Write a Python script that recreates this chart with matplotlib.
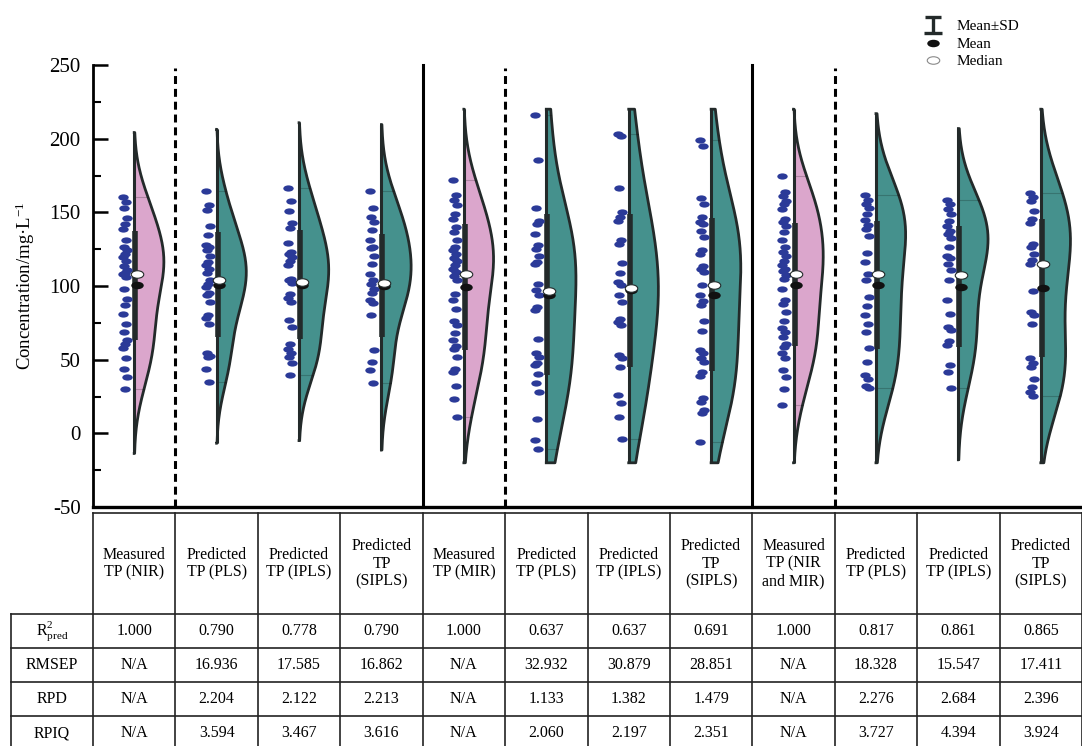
import matplotlib
matplotlib.use("Agg")
import matplotlib.pyplot as plt
import numpy as np
from matplotlib.lines import Line2D
from matplotlib.markers import MarkerStyle
from matplotlib.path import Path
from matplotlib.transforms import Affine2D

plt.rcParams["font.family"] = ["Liberation Serif", "DejaVu Serif"]
plt.rcParams["mathtext.fontset"] = "custom"
plt.rcParams["mathtext.rm"] = "Liberation Serif"
plt.rcParams["mathtext.it"] = "Liberation Serif:italic"
plt.rcParams["axes.unicode_minus"] = False

# TP concentration (mg/L) per column: measured set, then PLS / iPLS / siPLS predictions
measured_nir = [160.7, 156.8, 152.7, 146.0, 142.2, 138.5, 131.3, 126.8, 124.1, 121.9,
                119.6, 116.9, 113.3, 111.0, 108.7, 107.9, 106.0, 98.2, 90.9, 86.9,
                80.8, 74.5, 68.8, 63.6, 60.9, 58.2, 51.2, 44.0, 38.3, 29.8]
pls_nir = [164.7, 155.3, 151.7, 141.0, 134.3, 128.0, 126.4, 124.1, 120.3, 116.2,
           114.0, 111.7, 108.7, 103.8, 101.5, 99.3, 95.2, 93.6, 89.1, 80.1,
           78.5, 74.5, 54.8, 52.5, 51.5, 44.0, 34.9]
ipls_nir = [166.4, 157.5, 150.7, 142.6, 139.5, 129.3, 123.0, 121.4, 119.6, 117.3,
            114.0, 104.5, 103.8, 102.0, 94.8, 92.0, 88.9, 77.2, 72.2, 60.3,
            57.0, 54.2, 52.0, 47.4, 39.5]
sipls_nir = [164.3, 152.8, 147.1, 143.3, 138.1, 130.9, 126.8, 125.7, 120.3, 114.6,
             108.3, 103.8, 101.5, 98.2, 95.2, 90.3, 88.4, 80.1, 56.4, 48.5,
             42.9, 33.9]
measured_mir = [172.2, 162.0, 158.4, 155.0, 148.9, 145.6, 139.9, 136.5, 130.9, 126.8,
                124.1, 121.4, 118.9, 116.7, 114.0, 111.7, 109.4, 106.7, 103.8, 94.8,
                90.3, 84.6, 76.2, 73.3, 68.4, 63.6, 59.1, 57.5, 51.5, 44.0,
                41.7, 32.2, 23.2, 10.8]
pls_mir = [216.2, 185.7, 153.0, 144.4, 142.2, 135.4, 127.5, 125.3, 120.7, 116.2,
           115.1, 101.1, 97.0, 93.6, 85.7, 84.0, 64.3, 54.2, 51.9, 47.4,
           46.2, 40.1, 34.3, 28.2, 9.5, -4.5, -10.8]
ipls_mir = [203.1, 202.0, 166.6, 150.0, 147.1, 143.9, 130.9, 128.6, 115.5, 108.7,
            102.6, 100.4, 93.6, 89.1, 77.9, 75.6, 73.3, 53.0, 50.8, 45.1,
            25.9, 20.3, 10.8, -4.1]
sipls_mir = [199.3, 194.7, 159.8, 155.7, 146.6, 143.7, 142.2, 137.6, 133.1, 124.1,
             121.9, 113.5, 111.2, 109.4, 100.4, 94.1, 89.6, 87.3, 76.0, 69.3,
             56.9, 54.6, 50.8, 48.5, 41.7, 38.8, 24.1, 21.4, 15.8, 13.5, -5.7]
measured_fused = [174.9, 163.6, 161.3, 158.0, 155.7, 152.3, 145.6, 143.3, 140.4, 136.5,
                  130.9, 126.4, 123.0, 120.7, 117.3, 114.0, 111.7, 110.1, 107.2, 104.9,
                  97.7, 90.7, 88.0, 82.3, 76.2, 71.5, 68.8, 65.4, 60.9, 58.6,
                  54.2, 50.8, 42.9, 38.3, 29.8, 19.2]
pls_fused = [162.0, 158.4, 155.7, 153.0, 148.9, 144.9, 141.7, 138.8, 133.6, 122.3,
             116.2, 108.3, 103.8, 92.5, 86.2, 80.1, 74.5, 68.8, 58.2, 48.5,
             39.5, 37.2, 32.0, 30.5]
ipls_fused = [158.4, 155.7, 152.3, 148.9, 143.9, 141.0, 137.6, 135.4, 132.7, 126.4,
              120.7, 119.2, 115.1, 111.0, 103.8, 90.7, 80.8, 72.2, 69.9, 62.7,
              59.8, 46.2, 41.7, 30.5]
sipls_fused = [163.0, 160.3, 157.5, 151.2, 145.6, 142.6, 128.6, 126.4, 121.9, 117.8,
               115.1, 96.5, 82.3, 80.1, 74.0, 50.8, 47.4, 45.1, 37.2, 31.6,
               28.2, 25.3]

series = [measured_nir, pls_nir, ipls_nir, sipls_nir,
          measured_mir, pls_mir, ipls_mir, sipls_mir,
          measured_fused, pls_fused, ipls_fused, sipls_fused]
is_measured = [True, False, False, False] * 3

# summary marks shown on each violin
means = [100.4, 100.8, 101.0, 100.2, 99.5, 94.2, 97.0, 94.1, 101.0, 100.7, 99.6, 98.5]
sds = [37.2, 35.7, 36.7, 34.8, 42.6, 54.7, 52.0, 51.9, 41.9, 43.2, 41.0, 47.0]
medians = [108.0, 103.8, 103.0, 102.2, 108.3, 96.5, 98.6, 100.4, 107.9, 108.3, 107.2, 114.6]

headers = ["Measured\nTP (NIR)", "Predicted\nTP (PLS)", "Predicted\nTP (IPLS)", "Predicted\nTP\n(SIPLS)",
           "Measured\nTP (MIR)", "Predicted\nTP (PLS)", "Predicted\nTP (IPLS)", "Predicted\nTP\n(SIPLS)",
           "Measured\nTP (NIR\nand MIR)", "Predicted\nTP (PLS)", "Predicted\nTP (IPLS)", "Predicted\nTP\n(SIPLS)"]
metric_names = [r"$\mathrm{R}^{2}_{\mathrm{pred}}$", "RMSEP", "RPD", "RPIQ"]
r2_pred = [1.000, 0.790, 0.778, 0.790, 1.000, 0.637, 0.637, 0.691, 1.000, 0.817, 0.861, 0.865]
rmsep = [None, 16.936, 17.585, 16.862, None, 32.932, 30.879, 28.851, None, 18.328, 15.547, 17.411]
rpd = [None, 2.204, 2.122, 2.213, None, 1.133, 1.382, 1.479, None, 2.276, 2.684, 2.396]
rpiq = [None, 3.594, 3.467, 3.616, None, 2.060, 2.197, 2.351, None, 3.727, 4.394, 3.924]
metrics = [r2_pred, rmsep, rpd, rpiq]

PINK = "#dba6cc"
TEAL = "#45918d"
EDGE = "#232a2a"
DOT = "#2b3a98"
HALF_W = 0.36
Y_LO, Y_HI = -20, 220


def half_violin(values, cut=2.1):
    v = np.asarray(values, dtype=float)
    bw = 1.1 * v.std(ddof=1) * len(v) ** -0.2
    grid = np.linspace(max(v.min() - cut * bw, Y_LO), min(v.max() + cut * bw, Y_HI), 400)
    dens = np.exp(-0.5 * ((grid[:, None] - v[None, :]) / bw) ** 2).sum(axis=1)
    return grid, dens / dens.max()


ellipse = MarkerStyle(Path.unit_circle().transformed(Affine2D().scale(1.0, 0.6)))

fig = plt.figure(figsize=(10.82, 7.46), dpi=100)
ax = fig.add_axes([93 / 1082, 1 - 507 / 746, 1 - 93 / 1082, 442 / 746])
ax.set_xlim(0, 12)
ax.set_ylim(-50, 250)

for i, vals in enumerate(series):
    x0 = i + 0.5
    grid, dens = half_violin(vals)
    xs = x0 + dens * HALF_W
    ax.fill_betweenx(grid, x0, xs, color=PINK if is_measured[i] else TEAL, lw=0, zorder=2)
    ax.plot(np.r_[x0, xs, x0], np.r_[grid[0], grid, grid[-1]], color=EDGE, lw=2.0, zorder=3)
    # faint marks at the sample extremes
    for v in (min(vals), max(vals)):
        w = np.interp(v, grid, dens) * HALF_W
        ax.plot([x0, x0 + w], [v, v], color="black", alpha=0.2, lw=0.8, zorder=3)
    ax.plot([x0, x0], [grid[0], grid[-1]], color=EDGE, lw=2.2, zorder=4, solid_capstyle="butt")
    ax.plot([x0 + 0.012, x0 + 0.012], [means[i] - sds[i], means[i] + sds[i]],
            color=EDGE, lw=4.0, zorder=5, solid_capstyle="butt")
    jitter = ((np.arange(len(vals)) * 3) % 5 - 2) * 0.012
    ax.plot(x0 - 0.11 + jitter, vals, ls="none", marker=ellipse, ms=7.5,
            color=DOT, mec="none", zorder=6)
    ax.plot(x0 + 0.03, means[i], ls="none", marker=ellipse, ms=9,
            color="#111111", mec="none", zorder=7)
    ax.plot(x0 + 0.03, medians[i], ls="none", marker=ellipse, ms=9,
            mfc="white", mec=EDGE, mew=0.8, zorder=8)

# group separators
for xs_ in (1, 5, 9):
    ax.plot([xs_, xs_], [-50, 248], color="black", lw=2.2, ls=(0, (2.6, 1.6)), zorder=1)
for xs_ in (4, 8):
    ax.plot([xs_, xs_], [-50, 250], color="black", lw=2.2, zorder=1, clip_on=False)

for side in ("top", "right"):
    ax.spines[side].set_visible(False)
ax.spines["left"].set_linewidth(2.0)
ax.spines["bottom"].set_linewidth(2.4)
ax.set_xticks([])
ax.set_yticks(np.arange(-50, 251, 50))
ax.set_yticks(np.arange(-25, 250, 50), minor=True)
ax.tick_params(axis="y", which="major", direction="in", length=11, width=1.8,
               labelsize=15, pad=9)
ax.tick_params(axis="y", which="minor", direction="in", length=6, width=1.5)
ax.set_ylabel("Concentration/mg·L$^{-1}$", fontsize=13.5, labelpad=9)

# legend
ibeam = MarkerStyle(Path([(-0.55, 0.5), (0.55, 0.5), (0, 0.5), (0, -0.5), (-0.6, -0.5), (0.6, -0.5)],
                         [Path.MOVETO, Path.LINETO, Path.MOVETO, Path.LINETO, Path.MOVETO, Path.LINETO]))
handles = [
    Line2D([], [], ls="none", marker=ibeam, ms=13, mec=EDGE, mew=2.4, mfc="none"),
    Line2D([], [], ls="none", marker=ellipse, ms=9, color="#111111", mec="none"),
    Line2D([], [], ls="none", marker=ellipse, ms=9, mfc="white", mec="#888888", mew=0.8),
]
fig.legend(handles, ["Mean±SD", "Mean", "Median"], loc="upper left",
           bbox_to_anchor=(912 / 1082, 1 - 9 / 746), frameon=False, fontsize=11,
           handlelength=1.4, handletextpad=0.8, labelspacing=0.25, borderpad=0.2)

# statistics table under the plot
tax = fig.add_axes([(93 - 82.4) / 1082, 0, 1 - (93 - 82.4) / 1082, 233 / 746])
tax.set_xlim(-1, 12)
tax.set_ylim(233, 0)
tax.axis("off")
row_edges = [0, 101, 135, 169, 203, 237]
line_kw = dict(color="#222222", lw=1.2, clip_on=False)
tax.plot([0, 12], [0, 0], **line_kw)
for y in row_edges[1:]:
    tax.plot([-1, 12], [y, y], **line_kw)
for c in range(13):
    tax.plot([c, c], [0, 237], **line_kw)
tax.plot([-1, -1], [101, 237], **line_kw)

for c, text in enumerate(headers):
    tax.text(c + 0.5, 50.5, text, ha="center", va="center", fontsize=11.5, linespacing=1.15)
for r, (name, vals) in enumerate(zip(metric_names, metrics)):
    yc = (row_edges[r + 1] + row_edges[r + 2]) / 2
    tax.text(-0.5, yc, name, ha="center", va="center", fontsize=11.5)
    for c, v in enumerate(vals):
        tax.text(c + 0.5, yc, "N/A" if v is None else f"{v:.3f}",
                 ha="center", va="center", fontsize=11.5)

fig.savefig("out.png", dpi=100, facecolor="white")
